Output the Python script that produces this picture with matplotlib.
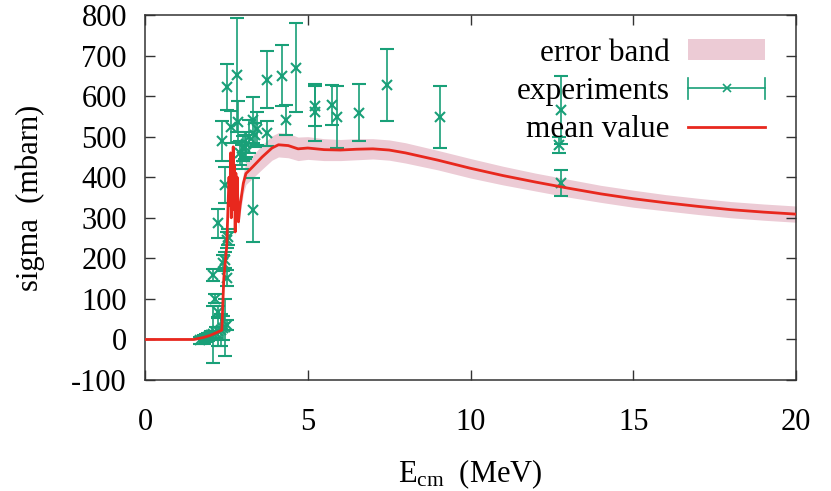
import numpy as np
import matplotlib
matplotlib.use("Agg")
import matplotlib.pyplot as plt
from matplotlib.legend_handler import HandlerBase
from matplotlib.lines import Line2D

plt.rcParams['font.family'] = ['Liberation Serif', 'DejaVu Serif']
plt.rcParams['mathtext.fontset'] = 'custom'
plt.rcParams['mathtext.rm'] = 'Liberation Serif'
plt.rcParams['mathtext.it'] = 'Liberation Serif:italic'
plt.rcParams['axes.unicode_minus'] = False

# experimental points: energy, cross section, error
exp_x = [1.70, 1.80, 1.88, 1.95, 2.02, 2.10, 2.18, 2.25, 2.32, 2.40, 2.46, 2.51,
         2.10, 2.15, 2.25, 2.25, 2.39, 2.46, 2.51, 2.51, 2.56, 2.46, 2.36, 2.51,
         2.63, 2.82, 2.87, 2.92, 2.97, 3.02, 3.08, 3.11, 3.20, 3.33, 3.38, 3.33,
         3.45, 3.76, 3.76, 4.21, 4.32, 4.64, 5.22, 5.22, 5.73, 5.89, 6.57, 7.42,
         9.06, 12.77, 12.72, 12.77]
exp_y = [-2, 0, 3, 6, 10, 13, 17, 20, 24, 28, 30, 36,
         159, 101, 68, 286, 188, 196, 151, 245, 253, 381, 489, 622,
         524, 652, 537, 459, 450, 471, 475, 481, 500, 541, 504, 319,
         520, 508, 640, 650, 541, 670, 576, 560, 578, 549, 559, 627,
         549, 566, 480, 385]
exp_err = [8, 10, 10, 10, 12, 70, 14, 35, 40, 30, 70, 12,
           15, 10, 15, 35, 20, 20, 20, 20, 20, 45, 50, 57,
           40, 140, 50, 30, 30, 30, 30, 30, 40, 57, 30, 79,
           40, 30, 70, 75, 37, 110, 50, 70, 50, 77, 70, 88,
           77, 84, 20, 32]

# mean value of the calculation and half width of the error band
mean_x = [0, 1.0, 1.5, 1.8, 2.0, 2.2, 2.36, 2.42, 2.51, 2.58, 2.61, 2.63, 2.65,
          2.67, 2.69, 2.71, 2.73, 2.75, 2.77, 2.79, 2.81, 2.83, 2.87, 2.92,
          3.02, 3.10, 3.3, 3.6, 3.9, 4.1, 4.4, 4.7, 5.0, 5.5, 6.0, 6.5, 7.0,
          7.5, 8.0, 9.0, 10.0, 11.0, 12.0, 13.0, 14.0, 15.0, 16.0, 17.0, 18.0,
          19.0, 20.0]
mean_y = [0, 0, 0, 5, 10, 17, 23, 150, 230, 400, 330, 460, 300, 440, 340, 475,
          320, 430, 265, 410, 350, 400, 290, 330, 385, 409, 425, 450, 472, 480,
          478, 470, 472, 468, 467, 469, 470, 467, 460, 442, 422, 404, 388, 373,
          359, 347, 337, 328, 320, 314, 309]
band_half = [2, 2, 2, 3, 3, 4, 5, 10, 12, 15, 15, 15, 15, 15, 15, 15, 15, 15,
             15, 15, 15, 15, 20, 22, 25, 27, 28, 30, 30, 30, 30, 29, 28, 27,
             26, 26, 25, 25, 25, 24, 24, 23, 22, 22, 21, 21, 20, 20, 20, 20, 20]

green = '#19a078'
red = '#e8281e'
pink = '#eccbd5'


class ErrorbarHandler(HandlerBase):
    # gnuplot style key: horizontal line with end caps and a cross in the middle
    def create_artists(self, legend, orig_handle, xdescent, ydescent,
                       width, height, fontsize, trans):
        x0, x1 = -xdescent, -xdescent + width
        yc = -ydescent + height / 2
        cap = height * 0.5
        arts = [Line2D([x0, x1], [yc, yc], color=green, lw=1.2),
                Line2D([x0, x0], [yc - cap, yc + cap], color=green, lw=1.2),
                Line2D([x1, x1], [yc - cap, yc + cap], color=green, lw=1.2),
                Line2D([(x0 + x1) / 2], [yc], color=green, marker='x',
                       markersize=6, mew=1.2, ls='none')]
        for a in arts:
            a.set_transform(trans)
        return arts


fig = plt.figure(figsize=(8.31, 4.91), dpi=100)
ax = fig.add_axes([0.1745, 0.226, 0.7835, 0.7435])

mx = np.array(mean_x)
my = np.array(mean_y)
bh = np.array(band_half)
band = ax.fill_between(mx, my - bh, my + bh, color=pink, lw=0, zorder=1)
ax.errorbar(exp_x, exp_y, yerr=exp_err, fmt='x', color=green, ecolor=green,
            elinewidth=1.2, capsize=5, capthick=1.2, markersize=7, mew=1.5,
            zorder=2)
line, = ax.plot(mx, my, color=red, lw=2, zorder=3)

exp_handle = Line2D([], [], color=green)
ax.legend([band, exp_handle, line], ['error band', 'experiments', 'mean value'],
          handler_map={exp_handle: ErrorbarHandler()},
          loc='upper right', bbox_to_anchor=(0.952, 0.935), frameon=False,
          markerfirst=False, fontsize=22.5, handlelength=2.45, handleheight=0.65,
          handletextpad=0.6, labelspacing=0.3, borderpad=0, borderaxespad=0)

ax.set_xlim(0, 20)
ax.set_ylim(-100, 800)
ax.set_xticks([0, 5, 10, 15, 20])
ax.set_yticks(np.arange(-100, 801, 100))
ax.tick_params(direction='in', length=7, width=1, top=True, right=True,
               labelsize=22, color='#333333')
ax.tick_params(axis='x', pad=20)
ax.tick_params(axis='y', pad=13)
for s in ax.spines.values():
    s.set_linewidth(1.1)
    s.set_color('#333333')

ax.set_xlabel(r'E$_{\rm cm}$  (MeV)', fontsize=22, labelpad=15)
ax.set_ylabel('sigma  (mbarn)', fontsize=22, labelpad=19)

fig.savefig('out.png', dpi=100)
